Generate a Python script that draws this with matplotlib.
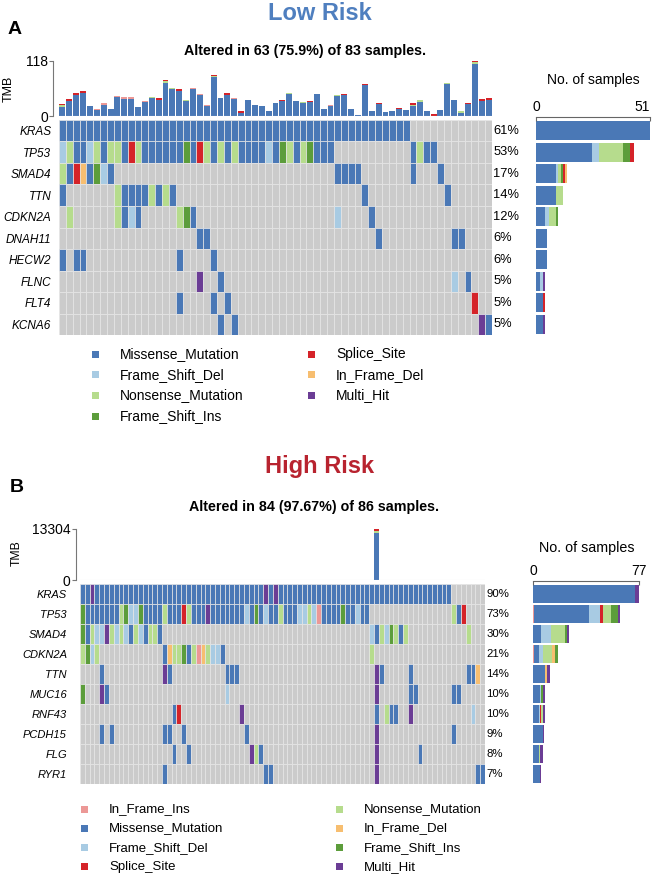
import numpy as np
import matplotlib
matplotlib.use('Agg')
import matplotlib.pyplot as plt
from matplotlib.patches import Rectangle

plt.rcParams['font.family'] = ['Liberation Sans', 'DejaVu Sans']

W, H = 653, 876

# variant code -> colour / name
var_colors = {
    'M': '#4a78b6', 'D': '#a8cbe3', 'N': '#b6dc8d', 'I': '#5c9d3b',
    'S': '#d52329', 'd': '#f7be70', 'H': '#6b3d95', 'i': '#ec9896',
}
var_names = {
    'M': 'Missense_Mutation', 'D': 'Frame_Shift_Del', 'N': 'Nonsense_Mutation',
    'I': 'Frame_Shift_Ins', 'S': 'Splice_Site', 'd': 'In_Frame_Del',
    'H': 'Multi_Hit', 'i': 'In_Frame_Ins',
}
GRAY = '#cbcbcb'

# ---------------- Low risk ----------------
low_total = 83
low_genes = ['KRAS', 'TP53', 'SMAD4', 'TTN', 'CDKN2A', 'DNAH11', 'HECW2', 'FLNC', 'FLT4', 'KCNA6']
low_rows = [
    'MMMMMMMMMM' 'MMMMMMMMMM' 'MMMMMMMMMM' 'MMMMMMMMMM' 'MMMMMMMMMM' 'M.........' '...',
    'DNMMDNMNNM' 'SNMMMMMMIM' 'SNMNMNMMMM' 'DMINMNIMMM' '..........' '.MNMM.....' '...',
    'NMSdMIDM..' '..........' '..........' '..........' 'MMMM......' '.M...M....' '...',
    'M.......NM' 'MMMNMNM...' '..........' '..........' '....M.....' '......M...' '...',
    '.N......NM' 'DM.....NIM' '..........' '..........' 'D....M....' '..........' '...',
    '..........' '..........' 'MM........' '..........' '......M...' '.......MM.' '...',
    'M.MM......' '.......M..' '..M.......' '..........' '..........' '..........' '...',
    '..........' '..........' 'H..M......' '..........' '..........' '.......D.M' '...',
    '..........' '.......M..' '..M.M.....' '..........' '..........' '..........' 'S..',
    '..........' '..........' '...M.M....' '..........' '..........' '..........' '.HM',
]
low_tmb = [26, 36, 49, 53, 21, 16, 27, 16, 43, 40,
           40, 20, 32, 41, 38, 77, 60, 57, 35, 61,
           47, 24, 89, 38, 49, 39, 10, 34, 24, 22,
           11, 27, 35, 50, 32, 30, 32, 48, 15, 24,
           45, 47, 15, 2, 69, 11, 28, 9, 11, 18,
           12, 27, 34, 10, 4, 12, 71, 34, 10, 28,
           118, 36, 38]
low_tmb_top = ('NS S S S . i i . i i '
               'i . i N S NS N S N i '
               'i i NS . S i S . . . '
               '. . S N . N S . . i '
               'N S . . S . S . . S '
               '. NS N . S . N . N S '
               'NS S S').split()
low_order = ['M', 'D', 'N', 'I', 'S', 'd', 'H']

# ---------------- High risk ----------------
high_total = 86
high_genes = ['KRAS', 'TP53', 'SMAD4', 'CDKN2A', 'TTN', 'MUC16', 'RNF43', 'PCDH15', 'FLG', 'RYR1']
high_rows = [
    'MMHMMMMMMM' 'MMMMMMMMMM' 'MMMMMMMMMM' 'MMMMMMMMHM' 'HMMMMMMMMM' 'MMMMMMMMMM' 'MMMMMMMMMM' 'MMMMMMM...' '....',
    'IMMMMMMMNI' 'DDIMMMMNMM' 'MSNMMMHMMM' 'MMMMDMIMDM' 'MNMMMDDNDi' 'MMMMIMMDMM' '..........' '.......NMS' '....',
    'IMNDDHNDND' 'MNDMNNM...' '..........' '..........' '..........' '..........' 'DMNDINMN..' '..........' 'N...',
    'NIDN......' '.......MdN' 'NIMNidNDDM' '..........' '..........' '..........' 'N.........' '..........' '....',
    '....M.....' '.......HM.' '..........' 'MMM.......' '..........' '..........' '.HM.....M.' '..........' 'MMd.',
    'I...HM....' '..........' '..........' 'D.........' '..........' '..........' '.H......MM' '.......MM.' '....',
    '..........' '.........M' 'S.........' '...H......' '..........' '..........' '.M.NMM..H.' '..........' '.D..',
    '....M.M...' '.......MM.' '.M........' '....M.....' '..........' '..........' '.H........' '.......M..' '....',
    '..........' '.........M' '..M.......' '.....HNM..' '..........' '..........' '.H........' 'M.........' '....',
    '..........' '.......M..' '..........' '........MM' '..........' '..........' '.H........' '..........' '..MM',
]
high_tmb = [60, 45, 70, 40, 60, 50, 35, 65, 45, 40,
            75, 50, 60, 35, 45, 55, 70, 45, 80, 60,
            65, 50, 40, 55, 75, 45, 60, 40, 50, 70,
            45, 55, 35, 65, 50, 60, 45, 75, 40, 55,
            50, 45, 65, 60, 40, 55, 70, 45, 50, 60,
            40, 65, 45, 55, 75, 50, 40, 60, 45, 55,
            70, 13304, 50, 60, 40, 65, 55, 45, 75, 60,
            45, 50, 70, 40, 55, 65, 45, 80, 60, 50,
            45, 55, 40, 65]
high_tmb_top = ['.'] * 61 + ['NS'] + ['.'] * 22
high_order = ['i', 'M', 'D', 'S', 'N', 'd', 'I', 'H']


def px_box(x0, y0, x1, y1):
    return [x0 / W, 1 - y1 / H, (x1 - x0) / W, (y1 - y0) / H]


def draw_panel(fig, genes, rows, total, tmb, tmb_top, order, g):
    n = len(rows[0])
    nr = len(rows)
    idx = np.arange(n)

    # --- TMB bars on top
    ax_t = fig.add_axes(px_box(*g['tmb']))
    tmb = np.asarray(tmb, float)
    tmax = tmb.max()
    cap_h = g['cap'] * tmax
    for j in idx:
        caps = tmb_top[j].replace('.', '')
        base = max(tmb[j] - cap_h * len(caps), 0)
        ax_t.bar(j, base, width=0.86, color=var_colors['M'], linewidth=0)
        bottom = base
        for c in caps:
            ax_t.bar(j, cap_h, bottom=bottom, width=0.86, color=var_colors[c], linewidth=0)
            bottom += cap_h
    ax_t.set_xlim(-0.5, n - 0.5)
    ax_t.set_ylim(0, tmax)
    ax_t.set_yticks([0, tmax])
    ax_t.set_yticklabels(['0', f'{int(tmax)}'], fontsize=g['tick_fs'])
    ax_t.set_xticks([])
    for s in ['top', 'right', 'bottom']:
        ax_t.spines[s].set_visible(False)
    ax_t.spines['left'].set_position(('outward', g['tmb_off']))
    ax_t.spines['left'].set_color('#777777')
    ax_t.tick_params(axis='y', length=3, width=0.8, color='#777777', pad=1)
    ax_t.axhline(0, color='#e0e0e0', lw=0.8)

    # --- oncoprint grid
    ax_g = fig.add_axes(px_box(*g['grid']))
    for r, s in enumerate(rows):
        cols = [var_colors.get(c, GRAY) for c in s]
        ax_g.bar(idx, 1.0, bottom=r - 0.5, width=1.0, color=cols,
                 edgecolor='#e6e6e6', linewidth=0.5)
    ax_g.set_xlim(-0.5, n - 0.5)
    ax_g.set_ylim(nr - 0.5, -0.5)
    ax_g.set_xticks([])
    ax_g.set_yticks(range(nr))
    ax_g.set_yticklabels(genes, fontstyle='italic', fontsize=g['gene_fs'])
    ax_g.tick_params(axis='y', length=0, pad=g['gene_pad'])
    for s in ax_g.spines.values():
        s.set_visible(False)
    counts = [sum(c != '.' for c in s) for s in rows]
    for r, c in enumerate(counts):
        ax_g.annotate(f'{round(100 * c / total)}%', xy=(n - 0.5, r), xytext=(1, 0),
                      textcoords='offset points', va='center', ha='left',
                      fontsize=g['pct_fs'], annotation_clip=False)

    # --- right bar chart
    ax_b = fig.add_axes(px_box(*g['bar']))
    left = np.zeros(nr)
    for t in order:
        v = np.array([s.count(t) for s in rows], float)
        ax_b.barh(range(nr), v, left=left, height=0.9, color=var_colors[t], linewidth=0)
        left += v
    cmax = max(counts)
    ax_b.set_xlim(0, cmax)
    ax_b.set_ylim(nr - 0.5, -0.5)
    ax_b.set_yticks([])
    ax_b.xaxis.tick_top()
    ax_b.set_xticks([0, cmax])
    ax_b.set_xticklabels(['0', str(cmax)], fontsize=g['tick_fs'] + 0.7)
    ax_b.tick_params(axis='x', direction='in', length=3, width=0.8, color='#666666', pad=2)
    for s in ['bottom', 'left', 'right']:
        ax_b.spines[s].set_visible(False)
    ax_b.spines['top'].set_position(('outward', 2))
    ax_b.spines['top'].set_color('#666666')
    ax_b.spines['top'].set_linewidth(0.8)
    if g['right_lab']:
        ax_b.xaxis.get_major_ticks()[1].label2.set_horizontalalignment('right')

    # --- texts
    tx, ty, tcol = g['title']
    fig.text(tx / W, 1 - ty / H, g['title_txt'], ha='center', va='center',
             fontsize=17, fontweight='bold', color=tcol)
    fig.text(g['letter'][0] / W, 1 - g['letter'][1] / H, g['letter_txt'],
             ha='left', va='center', fontsize=14, fontweight='bold')
    fig.text(g['sub'][0] / W, 1 - g['sub'][1] / H, g['sub_txt'], ha='center',
             va='center', fontsize=10.3, fontweight='bold')
    fig.text(g['tmb_lab'][0] / W, 1 - g['tmb_lab'][1] / H, 'TMB', rotation=90,
             ha='center', va='center', fontsize=g['tick_fs'] + 0.5)
    fig.text(g['nos'][0] / W, 1 - g['nos'][1] / H, 'No. of samples', ha='center',
             va='center', fontsize=g['nos_fs'])

    # --- legend
    lx, ly, dx, dy = g['leg']
    for i, t in enumerate(g['leg_order']):
        col, row = divmod(i, 4)
        x = lx + col * dx
        y = ly + row * dy
        fig.add_artist(Rectangle((x / W, 1 - (y + 3.5) / H), 7 / W, 7 / H,
                                 transform=fig.transFigure, color=var_colors[t], lw=0))
        fig.text((x + 28) / W, 1 - y / H, var_names[t], va='center', ha='left',
                 fontsize=g['leg_fs'])


fig = plt.figure(figsize=(W / 100, H / 100), dpi=100)

geo_low = dict(
    tmb=(59, 61, 492, 116), grid=(59, 120, 492, 335), bar=(536, 120, 650, 335),
    cap=0.025, tick_fs=8.5, tmb_off=4, gene_fs=8.5, gene_pad=5.5, pct_fs=9.3, nos_fs=10,
    title=(320, 13, '#4f7fbf'), title_txt='Low Risk', letter=(8, 29), letter_txt='A',
    sub=(305, 51), sub_txt='Altered in 63 (75.9%) of 83 samples.', tmb_lab=(9, 89),
    nos=(593, 80), leg=(92, 354, 216, 20.7), leg_order=low_order, leg_fs=10,
    right_lab=True,
)
geo_high = dict(
    tmb=(80, 529, 485, 580), grid=(80, 584, 485, 784), bar=(533, 584, 639, 784),
    cap=0.035, tick_fs=8.3, tmb_off=3, gene_fs=8, gene_pad=9.4, pct_fs=8.2, nos_fs=10.3,
    title=(320, 466, '#b8232f'), title_txt='High Risk', letter=(10, 487), letter_txt='B',
    sub=(314, 507), sub_txt='Altered in 84 (97.67%) of 86 samples.', tmb_lab=(17, 553),
    nos=(587, 548), leg=(81, 809, 255, 19.3), leg_order=high_order, leg_fs=9.5,
    right_lab=False,
)

draw_panel(fig, low_genes, low_rows, low_total, low_tmb, low_tmb_top, low_order, geo_low)
draw_panel(fig, high_genes, high_rows, high_total, high_tmb, high_tmb_top, high_order, geo_high)

fig.savefig('out.png', dpi=100)
